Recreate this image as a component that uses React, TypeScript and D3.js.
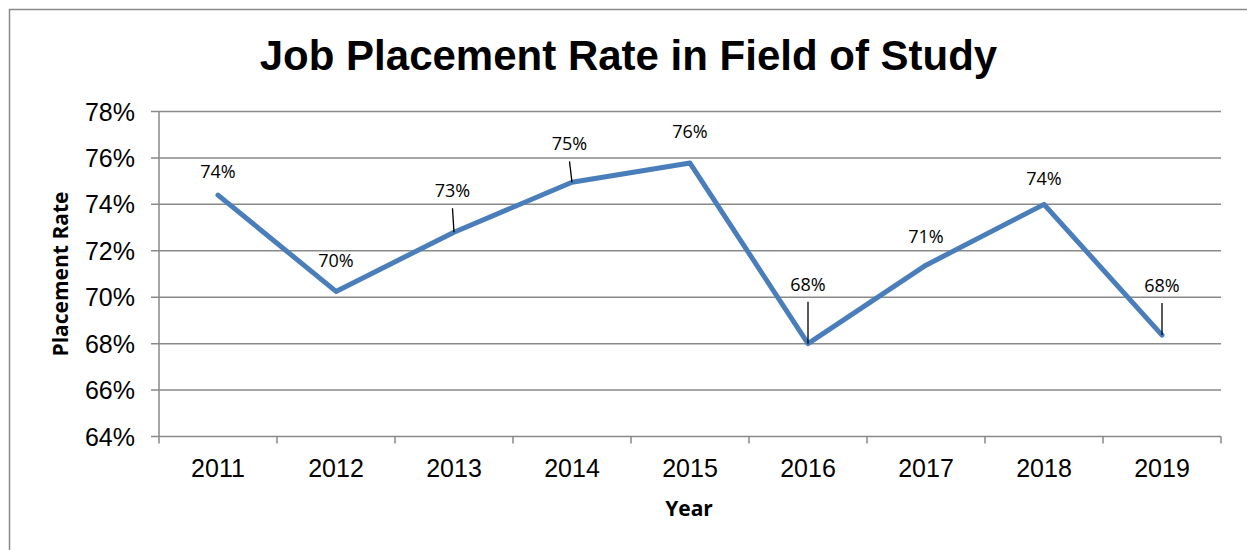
import React, { useRef, useEffect } from 'react';
import * as d3 from 'd3';

const years = ['2011', '2012', '2013', '2014', '2015', '2016', '2017', '2018', '2019'];
const rates = [74.4, 70.25, 72.8, 74.95, 75.78, 68.0, 71.38, 74.0, 68.37];
const yTicks = [64, 66, 68, 70, 72, 74, 76, 78];

// label nudges (dx, dy from point to baseline) and whether a leader line is drawn
const labelOffsets = [
    [0, -17, false], [0, -24, false], [-1.5, -35, true], [-2.5, -32, true], [0, -25, false],
    [0, -53, true], [0, -22, false], [0, -19, false], [0, -43, true]
];

export default function App() {
    const ref = useRef(null);

    useEffect(() => {
        const svg = d3.select(ref.current);
        svg.selectAll('*').remove();

        const left = 159, right = 1221, top = 111.5, bottom = 436.5;
        const grid = '#898989';

        const x = d3.scaleBand().domain(years).range([left, right]);
        const y = d3.scaleLinear().domain([64, 78]).range([bottom, top]);

        // outer chart border
        svg.append('rect')
            .attr('x', 9.5).attr('y', 9.5)
            .attr('width', 1260).attr('height', 600)
            .attr('fill', 'none').attr('stroke', grid).attr('stroke-width', 1.5);

        // title
        svg.append('text')
            .attr('x', 628.5).attr('y', 70)
            .attr('text-anchor', 'middle')
            .attr('font-family', 'Liberation Sans, Arial, sans-serif')
            .attr('font-weight', 'bold').attr('font-size', 42)
            .text('Job Placement Rate in Field of Study');

        // horizontal gridlines + y ticks
        svg.append('g').selectAll('line')
            .data(yTicks)
            .enter().append('line')
            .attr('x1', left - 8).attr('x2', right)
            .attr('y1', d => y(d)).attr('y2', d => y(d))
            .attr('stroke', grid).attr('stroke-width', 1.5);

        svg.append('g').selectAll('text')
            .data(yTicks)
            .enter().append('text')
            .attr('x', 135).attr('y', d => y(d) + 9)
            .attr('text-anchor', 'end')
            .attr('font-family', 'Liberation Sans, Arial, sans-serif')
            .attr('font-size', 25)
            .text(d => d + '%');

        // y axis line
        svg.append('line')
            .attr('x1', left).attr('x2', left)
            .attr('y1', top).attr('y2', bottom + 7)
            .attr('stroke', grid).attr('stroke-width', 1.5);

        // x ticks at category boundaries
        const bounds = years.map(d => x(d)).concat([right]);
        svg.append('g').selectAll('line')
            .data(bounds.slice(1))
            .enter().append('line')
            .attr('x1', d => d).attr('x2', d => d)
            .attr('y1', bottom).attr('y2', bottom + 7)
            .attr('stroke', grid).attr('stroke-width', 1.5);

        svg.append('g').selectAll('text')
            .data(years)
            .enter().append('text')
            .attr('x', d => x(d) + x.bandwidth() / 2).attr('y', 477)
            .attr('text-anchor', 'middle')
            .attr('font-family', 'Liberation Sans, Arial, sans-serif')
            .attr('font-size', 25)
            .text(d => d);

        // axis titles
        svg.append('text')
            .attr('x', 689).attr('y', 516)
            .attr('text-anchor', 'middle')
            .attr('font-family', 'Open Sans, sans-serif')
            .attr('font-weight', 'bold').attr('font-size', 21)
            .text('Year');

        svg.append('text')
            .attr('transform', 'translate(68,274) rotate(-90)')
            .attr('text-anchor', 'middle')
            .attr('font-family', 'Open Sans, sans-serif')
            .attr('font-weight', 'bold').attr('font-size', 21)
            .text('Placement Rate');

        // the line
        const pts = years.map((d, i) => [x(d) + x.bandwidth() / 2, y(rates[i])]);
        svg.append('path')
            .attr('d', d3.line()(pts))
            .attr('fill', 'none')
            .attr('stroke', '#4a7ebb')
            .attr('stroke-width', 5)
            .attr('stroke-linejoin', 'round')
            .attr('stroke-linecap', 'round');

        // data labels with leader lines
        pts.forEach((p, i) => {
            const [dx, dy, leader] = labelOffsets[i];
            if (leader) {
                svg.append('line')
                    .attr('x1', p[0] + dx).attr('y1', p[1] + dy + 11)
                    .attr('x2', p[0]).attr('y2', p[1])
                    .attr('stroke', 'black').attr('stroke-width', 1.3);
            }
            svg.append('text')
                .attr('x', p[0] + dx).attr('y', p[1] + dy)
                .attr('text-anchor', 'middle')
                .attr('font-family', 'Open Sans, sans-serif')
                .attr('font-size', 18)
                .text(Math.round(rates[i]) + '%');
        });
    }, []);

    return (
        <svg ref={ref} width="1247" height="550"
            style={{ position: 'absolute', left: 0, top: 0, background: 'white' }}></svg>
    );
}
